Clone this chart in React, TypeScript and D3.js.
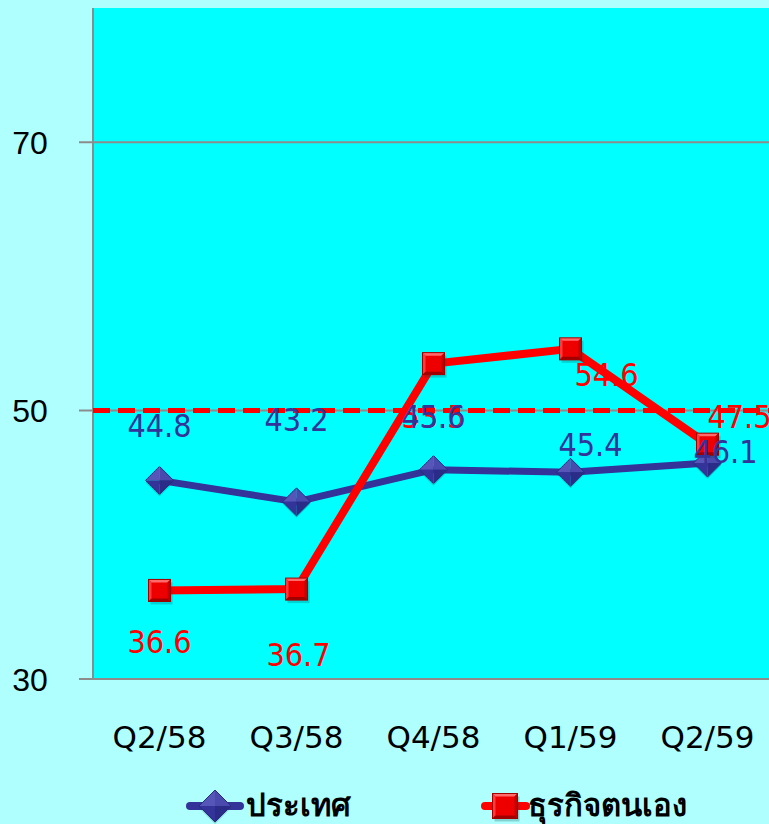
import React from "react";
import * as d3 from "d3";

const categories = ["Q2/58", "Q3/58", "Q4/58", "Q1/59", "Q2/59"];
const countryValues = [44.8, 43.2, 45.6, 45.4, 46.1];
const businessValues = [36.6, 36.7, 53.5, 54.6, 47.5];
const yTicks = [30, 50, 70];
const thresholdValue = 50;
const seriesNames = ["ประเทศ", "ธุรกิจตนเอง"];

const W = 769;
const H = 824;

// label offsets (layout only): [dx, dy of baseline]
const countryLabelOffsets: [number, number][] = [
  [0, -43],
  [0, -71],
  [0, -42],
  [20, -16],
  [18, 0],
];
const businessLabelOffsets: [number, number][] = [
  [0, 63],
  [2, 77],
  [0, 64],
  [36, 37],
  [32, -16],
];

const BLUE = "#333399";
const RED = "#ff0000";

function Diamond({ x, y, r }: { x: number; y: number; r: number }) {
  return (
    <g>
      <polygon points={`${x},${y - r + 2} ${x + r},${y + 2} ${x},${y + r + 2} ${x - r},${y + 2}`} fill="rgba(0,80,80,0.25)" />
      <polygon points={`${x},${y - r} ${x},${y} ${x - r},${y}`} fill="#5656b8" />
      <polygon points={`${x},${y - r} ${x + r},${y} ${x},${y}`} fill="#4a4aae" />
      <polygon points={`${x - r},${y} ${x},${y} ${x},${y + r}`} fill="#33339a" />
      <polygon points={`${x + r},${y} ${x},${y + r} ${x},${y}`} fill="#2b2b88" />
      <polygon points={`${x},${y - r} ${x + r},${y} ${x},${y + r} ${x - r},${y}`} fill="none" stroke="#2a2a80" strokeWidth={1} />
    </g>
  );
}

function Square({ x, y, s }: { x: number; y: number; s: number }) {
  const h = s / 2;
  const b = 3;
  const x0 = x - h, x1 = x + h, y0 = y - h, y1 = y + h;
  return (
    <g>
      <rect x={x0 + 2} y={y0 + 3} width={s} height={s} fill="rgba(0,80,80,0.25)" />
      <rect x={x0} y={y0} width={s} height={s} fill="#ee0000" />
      <polygon points={`${x0},${y0} ${x1},${y0} ${x1 - b},${y0 + b} ${x0 + b},${y0 + b}`} fill="#ff6a6a" />
      <polygon points={`${x0},${y0} ${x0 + b},${y0 + b} ${x0 + b},${y1 - b} ${x0},${y1}`} fill="#ff3a3a" />
      <polygon points={`${x1},${y0} ${x1},${y1} ${x1 - b},${y1 - b} ${x1 - b},${y0 + b}`} fill="#c00000" />
      <polygon points={`${x0},${y1} ${x1},${y1} ${x1 - b},${y1 - b} ${x0 + b},${y1 - b}`} fill="#a00000" />
      <rect x={x0} y={y0} width={s} height={s} fill="none" stroke="#a00000" strokeWidth={1} />
    </g>
  );
}

export default function App() {
  const plotLeft = 93;
  const plotTop = 8;
  const plotBottom = 679;

  const x = d3.scaleBand<string>().domain(categories).range([91, 776]).padding(0);
  const cx = (c: string) => (x(c) as number) + x.bandwidth() / 2;
  const y = d3.scaleLinear().domain([30, 80]).range([plotBottom, plotTop]);

  const line = d3
    .line<number>()
    .x((_, i) => cx(categories[i]))
    .y((d) => y(d));

  const labelFont = "'DejaVu Sans Condensed', 'DejaVu Sans', sans-serif";

  return (
    <svg
      width={W}
      height={H}
      style={{ position: "absolute", left: 0, top: 0, display: "block" }}
      fontFamily="'DejaVu Sans', sans-serif"
    >
      <rect x={0} y={0} width={W} height={H} fill="#b0ffff" />
      <rect x={plotLeft} y={plotTop} width={W - plotLeft} height={plotBottom - plotTop} fill="#00ffff" />

      {yTicks.map((t) => (
        <g key={t}>
          <line x1={79} x2={W} y1={y(t)} y2={y(t)} stroke="#8c8c8c" strokeWidth={2} />
          <text
            x={30}
            y={y(t)}
            dy="0.36em"
            textAnchor="middle"
            fontSize={32}
            fontFamily="'Liberation Sans', Arial, sans-serif"
            fill="#000"
          >
            {t}
          </text>
        </g>
      ))}
      <line x1={plotLeft} x2={plotLeft} y1={plotTop} y2={plotBottom + 1} stroke="#8c8c8c" strokeWidth={2} />

      <line
        x1={plotLeft}
        x2={W}
        y1={y(thresholdValue)}
        y2={y(thresholdValue)}
        stroke={RED}
        strokeWidth={5}
        strokeDasharray="17 8"
      />

      {categories.map((c) => (
        <text key={c} x={cx(c)} y={748} textAnchor="middle" fontSize={31} fill="#000" fontFamily="'DejaVu Sans', sans-serif">
          {c}
        </text>
      ))}

      <path d={line(countryValues) as string} fill="none" stroke={BLUE} strokeWidth={7} strokeLinejoin="round" />
      {countryValues.map((v, i) => (
        <Diamond key={i} x={cx(categories[i])} y={y(v)} r={14} />
      ))}

      <path d={line(businessValues) as string} fill="none" stroke={RED} strokeWidth={8} strokeLinejoin="round" />
      {businessValues.map((v, i) => (
        <Square key={i} x={cx(categories[i])} y={y(v)} s={22} />
      ))}

      {businessValues.map((v, i) => (
        <text
          key={"b" + i}
          x={cx(categories[i]) + businessLabelOffsets[i][0]}
          y={y(v) + businessLabelOffsets[i][1]}
          textAnchor="middle"
          fontSize={32}
          fontFamily={labelFont}
          fill={RED}
        >
          {v.toFixed(1)}
        </text>
      ))}
      {countryValues.map((v, i) => (
        <text
          key={"c" + i}
          x={cx(categories[i]) + countryLabelOffsets[i][0]}
          y={y(v) + countryLabelOffsets[i][1]}
          textAnchor="middle"
          fontSize={32}
          fontFamily={labelFont}
          fill={BLUE}
        >
          {v.toFixed(1)}
        </text>
      ))}

      <g>
        <line x1={190} x2={240} y1={806} y2={806} stroke={BLUE} strokeWidth={8} strokeLinecap="round" />
        <Diamond x={215} y={806} r={16} />
        <text x={246} y={816} fontSize={31} fontWeight="bold" fill="#000">
          {seriesNames[0]}
        </text>
        <line x1={485} x2={526} y1={806} y2={806} stroke={RED} strokeWidth={8} strokeLinecap="round" />
        <Square x={505} y={806} s={25} />
        <text x={528} y={816} fontSize={31} fontWeight="bold" fill="#000">
          {seriesNames[1]}
        </text>
      </g>
    </svg>
  );
}
